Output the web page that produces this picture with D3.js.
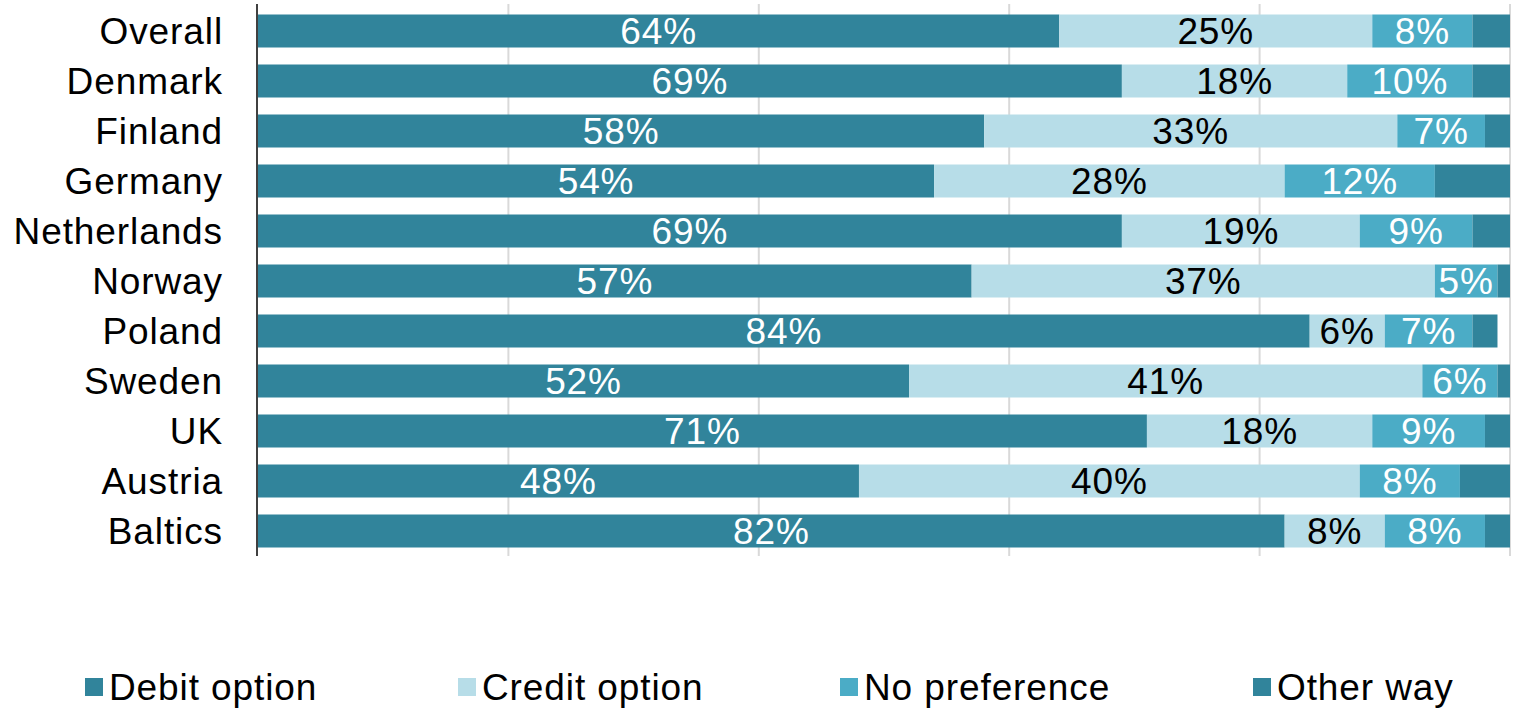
<!DOCTYPE html>
<html>
<head>
<meta charset="utf-8">
<script src="https://cdn.jsdelivr.net/npm/d3@7"></script>
<style>
  body { margin: 0; background: #fff; }
  svg text { font-family: 'Liberation Sans', Arial, sans-serif; letter-spacing: 0.9px; }
</style>
</head>
<body>
<div class="svgcontainer"></div>
<script>
// data (percent of respondents)
const countries = ['Overall', 'Denmark', 'Finland', 'Germany', 'Netherlands', 'Norway',
  'Poland', 'Sweden', 'UK', 'Austria', 'Baltics'];
const debitOption = [64, 69, 58, 54, 69, 57, 84, 52, 71, 48, 82];
const creditOption = [25, 18, 33, 28, 19, 37, 6, 41, 18, 40, 8];
const noPreference = [8, 10, 7, 12, 9, 5, 7, 6, 9, 8, 8];
const otherWay = [3, 3, 2, 6, 3, 1, 2, 1, 2, 4, 2];
const seriesNames = ['Debit option', 'Credit option', 'No preference', 'Other way'];
const xTicks = [0, 20, 40, 60, 80, 100];

const colors = ['#31849b', '#b7dde8', '#4bacc6', '#31849b'];
const labelColors = ['#fff', '#000', '#fff', null];

const svg = d3
  .select('.svgcontainer')
  .append('svg')
  .attr('width', 1519)
  .attr('height', 711);

const margin = {top: 6, right: 9, bottom: 155, left: 258};
const width = Number(svg.attr('width')) - margin.left - margin.right;
const height = Number(svg.attr('height')) - margin.top - margin.bottom;

const g = svg
  .append('g')
  .attr('transform', `translate(${margin.left},${margin.top})`);

const rows = countries.map((c, i) => ({
  country: c,
  'Debit option': debitOption[i],
  'Credit option': creditOption[i],
  'No preference': noPreference[i],
  'Other way': otherWay[i],
}));

const stacked = d3.stack().keys(seriesNames)(rows);

const x = d3.scaleLinear().domain([0, 100]).range([0, width]);
const y = d3
  .scaleBand()
  .domain(countries)
  .range([0, height])
  .paddingInner(0.34)
  .paddingOuter(0.17);

// gridlines
g.append('g')
  .selectAll('line')
  .data(xTicks.slice(1))
  .enter()
  .append('line')
  .attr('x1', d => x(d))
  .attr('x2', d => x(d))
  .attr('y1', -2)
  .attr('y2', height)
  .attr('stroke', '#d9d9d9')
  .attr('stroke-width', 2);

const serie = g
  .selectAll('.serie')
  .data(stacked)
  .enter()
  .append('g')
  .attr('class', 'serie')
  .attr('fill', (d, i) => colors[i]);

serie
  .selectAll('rect')
  .data(d => d)
  .enter()
  .append('rect')
  .attr('x', d => x(d[0]))
  .attr('y', d => y(d.data.country))
  .attr('width', d => x(d[1]) - x(d[0]))
  .attr('height', y.bandwidth());

// value labels
stacked.forEach(function(s, i) {
  if (!labelColors[i]) return;
  g.append('g')
    .selectAll('text')
    .data(s)
    .enter()
    .append('text')
    .attr('x', d => (x(d[0]) + x(d[1])) / 2)
    .attr('y', d => y(d.data.country) + y.bandwidth() / 2)
    .attr('dy', '0.36em')
    .attr('text-anchor', 'middle')
    .attr('fill', labelColors[i])
    .style('font-size', '37px')
    .text(d => `${d[1] - d[0]}%`);
});

// category axis
g.append('line')
  .attr('x1', -1)
  .attr('x2', -1)
  .attr('y1', -2)
  .attr('y2', height)
  .attr('stroke', '#404040')
  .attr('stroke-width', 2);

g.append('g')
  .selectAll('text')
  .data(countries)
  .enter()
  .append('text')
  .attr('x', -35)
  .attr('y', d => y(d) + y.bandwidth() / 2)
  .attr('dy', '0.36em')
  .attr('text-anchor', 'end')
  .attr('fill', '#000')
  .style('font-size', '37px')
  .text(d => d);

// legend
const legendX = [85, 458, 840, 1253];
const legend = svg
  .selectAll('.legend')
  .data(seriesNames)
  .enter()
  .append('g')
  .attr('class', 'legend')
  .attr('transform', (d, i) => `translate(${legendX[i]},678)`);

legend
  .append('rect')
  .attr('width', 18)
  .attr('height', 18)
  .attr('fill', (d, i) => colors[i]);

legend
  .append('text')
  .attr('x', 24)
  .attr('y', 9)
  .attr('dy', '0.36em')
  .attr('fill', '#000')
  .style('font-size', '37px')
  .text(d => d);
</script>
</body>
</html>
